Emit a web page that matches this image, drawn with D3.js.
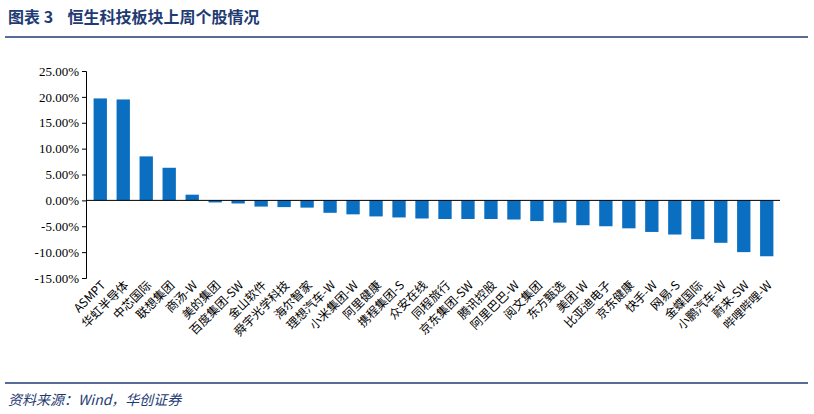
<!DOCTYPE html>
<html><head><meta charset="utf-8">
<script src="https://cdn.jsdelivr.net/npm/d3@7/dist/d3.min.js"></script>
<style>body{margin:0;background:#fff}</style>
</head><body>
<svg id="c" width="814" height="414"></svg>
<script>
var names = ['ASMPT','华虹半导体','中芯国际','联想集团','商汤-W','美的集团','百度集团-SW','金山软件','舜宇光学科技','海尔智家','理想汽车-W','小米集团-W','阿里健康','携程集团-S','众安在线','同程旅行','京东集团-SW','腾讯控股','阿里巴巴-W','阅文集团','东方甄选','美团-W','比亚迪电子','京东健康','快手-W','网易-S','金蝶国际','小鹏汽车-W','蔚来-SW','哔哩哔哩-W'];
var values = [19.7,19.5,8.5,6.3,1.1,-0.4,-0.6,-1.2,-1.3,-1.4,-2.4,-2.7,-3.1,-3.3,-3.5,-3.6,-3.6,-3.6,-3.7,-4.0,-4.3,-4.8,-5.0,-5.4,-6.1,-6.6,-7.5,-8.2,-10.0,-10.8];
var ticks = [25,20,15,10,5,0,-5,-10,-15];

var svg = d3.select('#c');
var navy = '#1f3b73';
svg.append('text').attr('x',8).attr('y',23).attr('fill',navy).attr('xml:space','preserve')
  .style('white-space','pre')
  .style('font-family','Noto Sans CJK SC').style('font-weight','bold').style('font-size','16px')
  .text('图表 3    恒生科技板块上周个股情况');
svg.append('line').attr('x1',5).attr('x2',808).attr('y1',37).attr('y2',37).attr('stroke',navy).attr('stroke-width',1.5);
svg.append('line').attr('x1',5).attr('x2',808).attr('y1',383).attr('y2',383).attr('stroke',navy).attr('stroke-width',1.5);
svg.append('text').attr('x',8).attr('y',405).attr('fill',navy)
  .style('font-family','Noto Sans CJK SC').style('font-style','italic').style('font-size','14px')
  .text('资料来源：Wind，华创证券');

var y = d3.scaleLinear().domain([-15,25]).range([278,71]);
var x = d3.scaleBand().domain(names).range([89,778]).paddingInner(0.42).paddingOuter(0.2);

var ya = svg.append('g').attr('transform','translate(86,0)')
  .call(d3.axisLeft(y).tickValues(ticks).tickFormat(function(d){return d.toFixed(2)+'%';}).tickSize(4));
ya.selectAll('text').style('font-family','Liberation Serif').style('font-size','13px').attr('fill','#000');
ya.selectAll('line,path').attr('stroke','#000');

svg.selectAll('rect.bar').data(values).enter().append('rect')
  .attr('x',function(d,i){return x(names[i]);})
  .attr('width',x.bandwidth())
  .attr('y',function(d){return y(Math.max(0,d));})
  .attr('height',function(d){return Math.abs(y(d)-y(0));})
  .attr('fill','#0b6fc1');

svg.append('line').attr('x1',86).attr('x2',780).attr('y1',y(0)).attr('y2',y(0)).attr('stroke','#000');

svg.selectAll('text.lab').data(names).enter().append('text')
  .attr('transform',function(d){return 'translate('+(x(d)+x.bandwidth()/2+6)+','+(y(-15)+8)+') rotate(-45)';})
  .attr('text-anchor','end')
  .style('font-family','Noto Sans CJK SC').style('font-size','12px')
  .text(function(d){return d;});
</script>
</body></html>
